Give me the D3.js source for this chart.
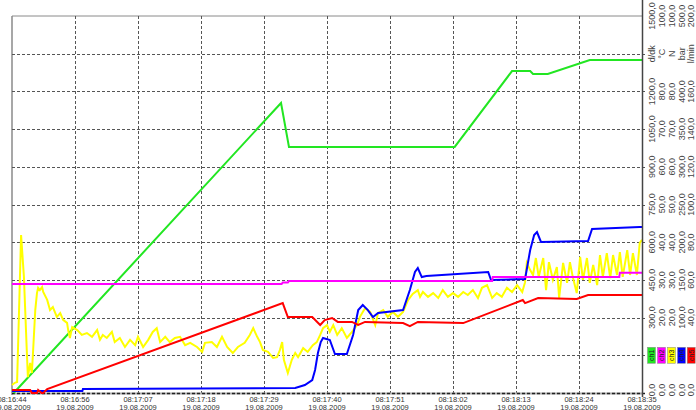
<!DOCTYPE html>
<html>
<head>
<meta charset="utf-8">
<script src="https://cdn.jsdelivr.net/npm/d3@7"></script>
<style>
  body { margin: 0; background: #fff; }
  svg { display: block; font-family: "Liberation Sans", Arial, sans-serif; }
</style>
</head>
<body>
<svg id="chart" width="696" height="410"></svg>
<script>
/* recording start and length (seconds) */
const startTime = new Date(2009, 7, 19, 8, 16, 44, 900)
const spanSec = 111

/* channel setup: one right-hand axis per channel */
const channelNames = ['ch1', 'ch2', 'ch3', 'ch4', 'ch5']
const channelColors = ['#22e622', '#ff00ff', '#ffff00', '#0000ff', '#ff0000']
const axisMax = [1500, 100, 100, 500, 200]
const axisUnits = ['d/dk', '°C', 'N', 'bar', 'l/min']

/* series: [seconds from start, value on its own axis] */
const ch1 = [[0.3, 0], [47.4, 1154], [48.8, 979], [78.0, 979], [88.1, 1281], [91.3, 1281],
  [91.8, 1269], [94.4, 1269], [101.8, 1325], [111, 1325]]

const ch2 = [[0, 28.9], [47.5, 28.9], [47.7, 29.3], [48.6, 29.3], [48.8, 29.7], [84.6, 29.7],
  [84.7, 30.8], [107.0, 30.8], [107.1, 31.9], [111, 31.9]]

const ch3 = [[0, 2.1], [0.5, 2.7], [0.9, 2.9], [1.6, 41.9], [2.1, 30.8], [2.6, 11.4], [2.8, 4.2],
  [3.2, 8.0], [3.5, 5.3], [3.7, 10.6], [4.1, 22.0], [4.4, 26.5], [4.6, 27.9], [4.9, 27.3],
  [5.3, 28.1], [5.5, 26.8], [6.2, 24.7], [6.7, 22.0], [7.2, 22.8], [7.9, 20.2], [8.5, 21.2],
  [9.0, 19.4], [9.7, 18.6], [9.9, 16.7], [10.2, 14.6], [10.6, 17.5], [11.5, 16.7], [12.3, 15.4],
  [13.2, 15.9], [14.1, 14.9], [15.0, 16.7], [15.5, 14.1], [16.0, 15.4], [16.7, 14.6],
  [17.6, 16.2], [18.1, 13.5], [19.0, 14.6], [19.9, 12.2], [20.8, 14.1], [21.7, 12.7],
  [22.2, 14.9], [23.1, 12.2], [24.0, 14.1], [24.8, 16.2], [25.5, 17.2], [26.1, 13.5],
  [27.0, 14.9], [27.8, 13.5], [28.7, 14.6], [29.6, 14.9], [30.5, 12.7], [31.4, 13.3],
  [32.6, 12.2], [33.5, 10.9], [34.0, 13.3], [35.2, 13.5], [36.1, 12.2], [37.0, 14.9],
  [37.9, 12.2], [38.9, 10.6], [39.8, 12.2], [41.0, 13.3], [41.9, 15.4], [42.5, 17.2],
  [43.2, 14.9], [43.7, 13.5], [44.2, 11.4], [45.1, 10.9], [46.0, 9.3], [46.7, 9.5],
  [47.2, 11.4], [47.6, 13.5], [47.9, 8.8], [48.6, 5.3], [49.3, 8.8], [49.9, 10.6], [50.4, 9.5],
  [51.3, 11.9], [52.1, 10.9], [53.0, 12.7], [53.7, 13.5], [54.3, 15.4], [54.8, 17.2],
  [55.5, 18.0], [56.0, 16.2], [56.6, 18.0], [57.3, 15.4], [58.1, 17.2], [59.0, 14.6],
  [59.9, 16.2], [60.8, 18.0], [61.3, 20.2], [62.2, 22.5], [63.1, 21.5], [64.0, 18.0],
  [64.5, 21.2], [65.4, 22.0], [66.2, 20.2], [67.1, 21.5], [68.0, 20.2], [68.9, 21.5],
  [69.8, 24.7], [70.6, 26.3], [71.5, 27.3], [71.9, 25.5], [72.4, 26.8], [73.3, 25.5],
  [74.2, 26.5], [75.1, 25.2], [75.9, 27.3], [76.8, 25.5], [77.7, 26.5], [78.6, 25.5],
  [79.5, 26.8], [80.3, 26.0], [81.2, 27.3], [82.1, 25.2], [82.8, 27.9], [83.7, 28.6],
  [84.6, 25.2], [85.4, 26.5], [86.3, 25.5], [87.2, 27.9], [88.1, 26.8], [89.0, 28.6],
  [89.9, 26.8], [90.4, 29.4], [90.7, 34.5], [91.3, 32.6], [91.8, 31.3], [92.3, 35.8],
  [92.8, 30.8], [93.6, 35.8], [94.1, 27.3], [94.6, 34.7], [95.3, 30.0], [96.0, 33.4],
  [96.4, 25.2], [97.1, 34.5], [97.8, 29.2], [98.3, 34.7], [98.8, 30.8], [99.5, 26.5],
  [100.1, 36.1], [100.6, 30.0], [101.3, 35.8], [101.8, 29.2], [102.4, 34.0], [103.1, 28.6],
  [103.6, 36.6], [104.1, 30.8], [104.8, 37.1], [105.4, 30.5], [105.9, 36.6], [106.6, 31.3],
  [107.1, 37.4], [107.6, 30.8], [108.4, 37.9], [108.9, 31.3], [109.4, 37.1], [110.1, 31.3],
  [110.6, 39.8], [111, 40.6]]

const ch4 = [[0, 2.7], [12.4, 2.7], [12.5, 5.3], [49.9, 6.6], [51.6, 10.6], [52.9, 17.2],
  [53.4, 30.5], [53.9, 53], [54.4, 67.6], [54.8, 73], [56.0, 70.3], [56.9, 51.7], [59.0, 51.7],
  [60.1, 76.9], [61.0, 110], [61.8, 116.7], [62.7, 110], [63.6, 100.8], [64.5, 106],
  [68.9, 110], [70.1, 136.6], [71.0, 160.5], [71.5, 165.8], [72.2, 153.8], [73.0, 155.2],
  [83.9, 160.5], [84.4, 149.9], [90.4, 151.2], [91.3, 189.7], [92.0, 209.5], [92.5, 213.5],
  [93.2, 200.3], [101.5, 201.6], [102.2, 217.5], [110.6, 220.2], [111, 220.2]]

const ch5 = [[0, 1.6], [3.2, 1.6], [3.5, 0], [4.4, 0], [4.6, 1.6], [5.2, 0], [5.5, 0],
  [6.2, 2.1], [47.7, 47.7], [48.6, 40.3], [52.9, 40.3], [54.3, 36.1], [55.1, 38.7],
  [56.4, 39.8], [57.4, 37.7], [59.9, 37.7], [61.0, 36.1], [62.2, 37.7], [68.9, 37.1],
  [70.1, 35.5], [71.5, 37.7], [79.5, 37.1], [90.0, 49.3], [90.4, 47.7], [92.7, 50.4],
  [99.5, 49.9], [101.5, 52], [111, 52]]

const seriesList = [ch1, ch2, ch3, ch4, ch5]
/* drawing order (indices into seriesList) */
const drawOrder = [0, 2, 3, 4, 1]

/* plot frame */
const margin = { top: 16, left: 12, right: 54, bottom: 17 }
const W = 696
const H = 410
const plotW = W - margin.left - margin.right
const plotH = H - margin.top - margin.bottom
const x0 = margin.left
const x1 = margin.left + plotW
const y0 = margin.top
const y1 = margin.top + plotH

const svg = d3.select('#chart')

/* time scale + 10 equal divisions */
const endTime = new Date(+startTime + spanSec * 1000)
const xScale = d3.scaleTime().domain([startTime, endTime]).range([x0, x1])
const xTicks = d3.range(11).map((i) => new Date(+startTime + (i * spanSec * 1000) / 10))
const fmtTime = d3.timeFormat('%H:%M:%S')
const fmtDate = d3.timeFormat('%d.%m.%Y')

/* one linear scale per channel, 10 equal divisions each */
const yScales = axisMax.map((m) => d3.scaleLinear().domain([0, m]).range([y1, y0]))
const gridFrac = d3.range(11).map((i) => i / 10)
const yGrid = d3.scaleLinear().domain([0, 1]).range([y1, y0])

/* frame */
svg.append('line').attr('x1', x0).attr('x2', x1).attr('y1', y0).attr('y2', y0)
  .attr('stroke', '#8a8a8a')
svg.append('line').attr('x1', x0).attr('x2', x0).attr('y1', y0).attr('y2', y1 + 2)
  .attr('stroke', '#8a8a8a').attr('stroke-width', 1.5)

/* horizontal grid */
svg.append('g')
  .selectAll('line')
  .data(gridFrac.slice(1, 10))
  .join('line')
  .attr('x1', x0)
  .attr('x2', x1 + 4)
  .attr('y1', (d) => Math.round(yGrid(d)) + 0.5)
  .attr('y2', (d) => Math.round(yGrid(d)) + 0.5)
  .attr('stroke', '#555')
  .attr('stroke-dasharray', '3,2')

/* vertical grid */
svg.append('g')
  .selectAll('line')
  .data(xTicks.slice(1, 10))
  .join('line')
  .attr('x1', (d) => Math.round(xScale(d)) + 0.5)
  .attr('x2', (d) => Math.round(xScale(d)) + 0.5)
  .attr('y1', y0)
  .attr('y2', y1 + 3)
  .attr('stroke', '#555')
  .attr('stroke-dasharray', '3,2')

/* bottom base line */
svg.append('line').attr('x1', x0).attr('x2', x1).attr('y1', y1 + 0.5).attr('y2', y1 + 0.5)
  .attr('stroke', '#aaa').attr('stroke-width', 2)
svg.append('line').attr('x1', x0).attr('x2', x1 + 4).attr('y1', y1 + 0.5).attr('y2', y1 + 0.5)
  .attr('stroke', '#222').attr('stroke-dasharray', '3,2').attr('stroke-width', 1.5)

/* series lines */
const line = d3.line()
  .x((d) => xScale(new Date(+startTime + d[0] * 1000)))

drawOrder.forEach(function (i) {
  svg.append('path')
    .datum(seriesList[i])
    .attr('fill', 'none')
    .attr('stroke', channelColors[i])
    .attr('stroke-width', 2)
    .attr('stroke-linejoin', 'miter')
    .attr('d', line.y((d) => yScales[i](d[1])))
})

/* right axis line */
svg.append('line').attr('x1', x1 + 0.5).attr('x2', x1 + 0.5).attr('y1', 0).attr('y2', y1 + 4)
  .attr('stroke', '#444').attr('stroke-width', 1.5)

/* bottom time labels (first one runs off the left edge, as in the original) */
const xLab = svg.append('g').attr('fill', '#333').attr('font-size', 7.5)
  .attr('text-anchor', 'middle')
xLab.selectAll('text.t')
  .data(xTicks)
  .join('text')
  .attr('class', 't')
  .attr('x', (d) => xScale(d))
  .attr('y', y1 + 8.5)
  .text((d) => fmtTime(d))
xLab.selectAll('text.d')
  .data(xTicks)
  .join('text')
  .attr('class', 'd')
  .attr('x', (d) => xScale(d))
  .attr('y', y1 + 16.5)
  .text((d) => fmtDate(d))

/* right-hand axes: rotated value labels, unit in the 9th slot, legend box in the 1st */
const colX = [651.5, 661.5, 671.5, 681.5, 691.2]
const fmtVal = (v) => d3.format('.1f')(v).replace('.', ',')

axisMax.forEach(function (m, i) {
  const g = svg.append('g')
  const ticks = gridFrac.map((f) => f * m)
  ticks.forEach(function (v, k) {
    /* keep the bottom "0,0" inside the picture */
    const yy = k === 0 ? yScales[i](v) - 3 : yScales[i](v)
    if (k === 1) {
      g.append('rect')
        .attr('x', colX[i] - 4)
        .attr('y', yy - 8)
        .attr('width', 8)
        .attr('height', 16)
        .attr('fill', channelColors[i])
        .attr('stroke', '#888')
        .attr('stroke-width', 0.5)
      g.append('text')
        .attr('transform', `translate(${colX[i] + 2.5},${yy}) rotate(-90)`)
        .attr('text-anchor', 'middle')
        .attr('font-size', 7)
        .attr('fill', '#222')
        .text(channelNames[i])
      return
    }
    g.append('text')
      .attr('transform', `translate(${colX[i] + 3.2},${yy}) rotate(-90)`)
      .attr('text-anchor', 'middle')
      .attr('font-size', 9)
      .attr('fill', '#444')
      .text(k === 9 ? axisUnits[i] : fmtVal(v))
  })
})
</script>
</body>
</html>
